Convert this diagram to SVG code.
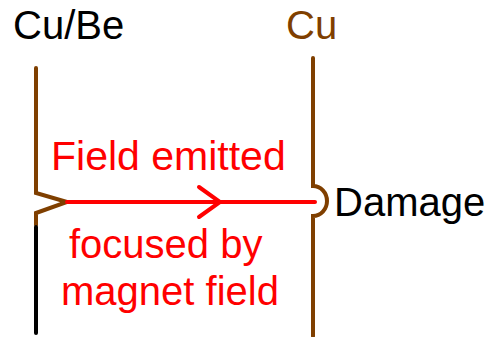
<svg xmlns="http://www.w3.org/2000/svg" width="491" height="337" viewBox="0 0 491 337">
<style>
.t{font-family:"Liberation Sans",Arial,sans-serif;font-size:40px}
.brown{stroke:#7F3F00;stroke-width:4;fill:none;stroke-linecap:round;stroke-linejoin:miter}
.red{stroke:#FF0000;stroke-width:4;fill:none;stroke-linecap:round}
</style>
<rect width="491" height="337" fill="#fff"/>
<g id="cube">
<text class="t" x="13" y="39" fill="#000">Cu/Be</text>
<path class="brown" d="M36,68 V193 L67,202 L36,213 V225"/>
<path d="M36,227 V333" stroke="#000" stroke-width="4" stroke-linecap="round"/>
</g>
<g id="cu">
<text class="t" x="286" y="39" fill="#7F3F00">Cu</text>
<path class="brown" d="M313,58 V186 A14,15 0 0 1 313,216 V336"/>
</g>
<g id="damage">
<text class="t" x="334" y="216" fill="#000">Damage</text>
</g>
<g id="connectors">
<path class="red" d="M67,202 H315"/>
<path class="red" d="M199,187 L220,202 L199,217"/>
</g>
<g id="labels">
<text class="t" x="51" y="170" fill="#FF0000" style="font-size:41px">Field emitted</text>
<text class="t" x="69" y="258" fill="#FF0000">focused by</text>
<text class="t" x="61" y="305" fill="#FF0000">magnet field</text>
</g>
</svg>
